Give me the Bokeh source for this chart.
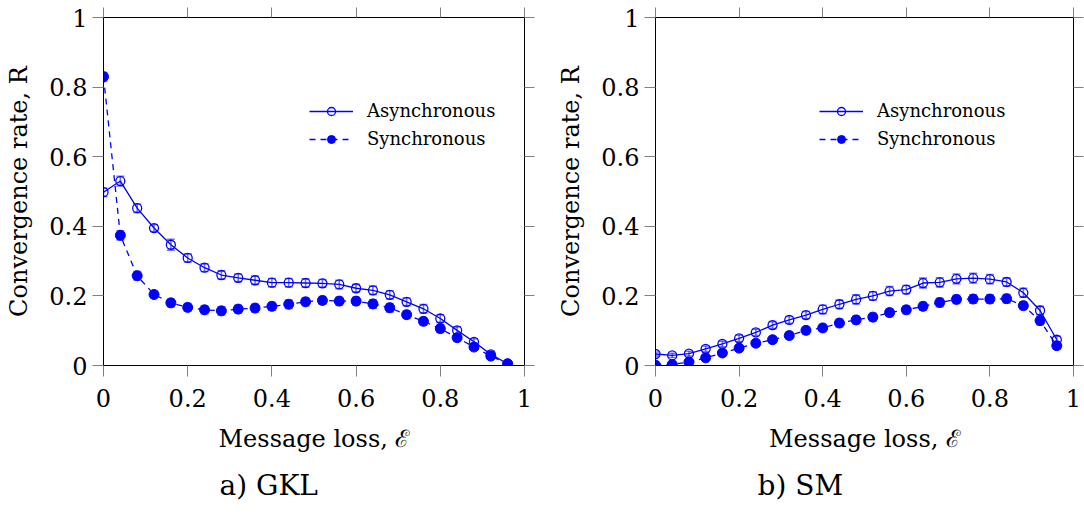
from bokeh.plotting import figure
from bokeh.models import (Range1d, FixedTicker, LinearAxis, Legend, LegendItem,
                          ColumnDataSource, Whisker, TeeHead, Title)
from bokeh.layouts import row
from bokeh.embed import file_html
from bokeh.resources import INLINE

# ---------------- data ----------------
loss = [0.00, 0.04, 0.08, 0.12, 0.16, 0.20, 0.24, 0.28, 0.32, 0.36, 0.40, 0.44, 0.48,
        0.52, 0.56, 0.60, 0.64, 0.68, 0.72, 0.76, 0.80, 0.84, 0.88, 0.92, 0.96]

gkl_async = [0.498, 0.530, 0.452, 0.395, 0.347, 0.309, 0.281, 0.260, 0.252, 0.245, 0.238, 0.238, 0.237,
             0.236, 0.233, 0.222, 0.216, 0.203, 0.183, 0.163, 0.135, 0.101, 0.068, 0.032, 0.005]
gkl_sync = [0.830, 0.374, 0.258, 0.204, 0.180, 0.167, 0.160, 0.157, 0.162, 0.165, 0.170, 0.176, 0.183,
            0.187, 0.185, 0.185, 0.177, 0.166, 0.146, 0.127, 0.106, 0.080, 0.053, 0.027, 0.005]
gkl_async_err = [0.012, 0.014, 0.012, 0.010, 0.016, 0.012, 0.011, 0.012, 0.011, 0.012, 0.012, 0.012, 0.012,
                 0.011, 0.012, 0.011, 0.012, 0.012, 0.011, 0.012, 0.011, 0.010, 0.009, 0.008, 0.004]
gkl_sync_err = [0.012, 0.013, 0.012, 0.010, 0.011, 0.011, 0.011, 0.012, 0.011, 0.011, 0.011, 0.012, 0.011,
                0.011, 0.011, 0.011, 0.012, 0.012, 0.011, 0.011, 0.011, 0.010, 0.009, 0.007, 0.004]

sm_async = [0.033, 0.029, 0.034, 0.048, 0.062, 0.078, 0.095, 0.116, 0.131, 0.145, 0.161, 0.176, 0.190,
            0.200, 0.214, 0.218, 0.237, 0.239, 0.249, 0.251, 0.248, 0.240, 0.209, 0.158, 0.074]
sm_sync = [0.001, 0.003, 0.010, 0.022, 0.036, 0.050, 0.064, 0.074, 0.086, 0.101, 0.108, 0.122, 0.131,
           0.139, 0.152, 0.160, 0.170, 0.181, 0.190, 0.191, 0.191, 0.192, 0.172, 0.129, 0.057]
sm_async_err = [0.006, 0.006, 0.007, 0.008, 0.008, 0.009, 0.009, 0.010, 0.010, 0.010, 0.012, 0.012, 0.013,
                0.012, 0.013, 0.012, 0.014, 0.013, 0.014, 0.014, 0.013, 0.012, 0.013, 0.012, 0.010]
sm_sync_err = [0.005, 0.005, 0.006, 0.007, 0.008, 0.009, 0.009, 0.009, 0.010, 0.010, 0.010, 0.011, 0.011,
               0.011, 0.011, 0.011, 0.011, 0.012, 0.012, 0.012, 0.012, 0.012, 0.011, 0.012, 0.010]

tick_values = [0, 0.2, 0.4, 0.6, 0.8, 1]
series_labels = ["Asynchronous", "Synchronous"]
x_label = "Message loss, ℰ"
y_label = "Convergence rate, R"
captions = ["a) GKL", "b) SM"]

FONT = "DejaVu Serif"
BLUE = "#0000ff"
TICK = "#808080"


def src_for(y, e):
    return ColumnDataSource(dict(x=loss, y=y,
                                 upper=[a + b for a, b in zip(y, e)],
                                 lower=[a - b for a, b in zip(y, e)]))


def style_axis(ax, show_labels=True, tick_out=11):
    ax.ticker = FixedTicker(ticks=tick_values)
    ax.minor_tick_line_color = None
    ax.major_tick_in = 0
    ax.major_tick_out = tick_out
    ax.major_tick_line_color = TICK
    ax.major_tick_line_width = 1
    ax.axis_line_color = "black"
    ax.axis_line_width = 1
    ax.major_label_text_font = FONT
    ax.major_label_text_color = "black"
    ax.axis_label_text_font = FONT
    ax.axis_label_text_font_style = "normal"
    ax.axis_label_text_color = "black"
    ax.major_label_text_font_size = "24px"
    ax.axis_label_text_font_size = "24px"
    if show_labels:
        ax.major_label_overrides = {0: "0", 1: "1"}
    else:
        ax.major_label_overrides = {t: "" for t in tick_values}
        ax.major_label_standoff = 0


def make_fig(ya, ys, ea, es, caption, width, mbl, mbr, legend_x, cap_off):
    p = figure(width=width, height=514, x_range=Range1d(0, 1), y_range=Range1d(0, 1),
               output_backend="svg", toolbar_location=None,
               min_border_left=mbl, min_border_right=mbr, min_border_top=17,
               min_border_bottom=149)
    p.grid.visible = False
    p.outline_line_color = "black"
    p.outline_line_width = 1
    p.background_fill_color = "white"
    p.border_fill_color = "white"

    style_axis(p.xaxis[0])
    style_axis(p.yaxis[0])
    p.xaxis[0].axis_label = x_label
    p.yaxis[0].axis_label = y_label
    p.xaxis[0].major_label_standoff = 12
    p.xaxis[0].axis_label_standoff = 15
    p.yaxis[0].major_label_standoff = 5
    p.yaxis[0].axis_label_standoff = 13

    ra = LinearAxis()
    style_axis(ra, show_labels=False, tick_out=10)
    p.add_layout(ra, "right")
    ta = LinearAxis()
    style_axis(ta, show_labels=False, tick_out=10)
    p.add_layout(ta, "above")

    sa = src_for(ya, ea)
    ss = src_for(ys, es)

    for s in (sa, ss):
        w = Whisker(source=s, base="x", upper="upper", lower="lower", dimension="height",
                    line_color=BLUE, line_alpha=0.55, line_width=1.6,
                    upper_head=TeeHead(size=8, line_color=BLUE, line_alpha=0.55, line_width=1.6),
                    lower_head=TeeHead(size=8, line_color=BLUE, line_alpha=0.55, line_width=1.6))
        p.add_layout(w)

    la = p.line("x", "y", source=sa, line_color=BLUE, line_width=1.3)
    ma = p.scatter("x", "y", source=sa, marker="circle", size=9, line_color=BLUE,
                   line_width=1.3, fill_alpha=0)
    ls = p.line("x", "y", source=ss, line_color=BLUE, line_width=1.3, line_dash="6 5")
    ms = p.scatter("x", "y", source=ss, marker="circle", size=10, line_color=BLUE,
                   fill_color=BLUE)

    legend = Legend(items=[LegendItem(label=series_labels[0], renderers=[la, ma]),
                           LegendItem(label=series_labels[1], renderers=[ls, ms])],
                    location=(legend_x, 216), orientation="vertical",
                    label_text_font=FONT, label_text_font_size="18px",
                    label_text_color="black",
                    glyph_width=44, glyph_height=20, label_height=20,
                    label_standoff=14, spacing=7, padding=0, margin=0,
                    border_line_alpha=0, background_fill_alpha=0)
    p.add_layout(legend)

    cap = Title(text=caption, align="left", offset=cap_off, standoff=23,
                text_font=FONT, text_font_size="28px", text_font_style="normal",
                text_color="black")
    p.add_layout(cap, "below")
    return p


p1 = make_fig(gkl_async, gkl_sync, gkl_async_err, gkl_sync_err, captions[0],
              540, 103, 16, 206, 116)
p2 = make_fig(sm_async, sm_sync, sm_async_err, sm_sync_err, captions[1],
              544, 115, 11, 164, 102)

layout = row(p1, p2)
open("out.html", "w").write(file_html(layout, INLINE))
